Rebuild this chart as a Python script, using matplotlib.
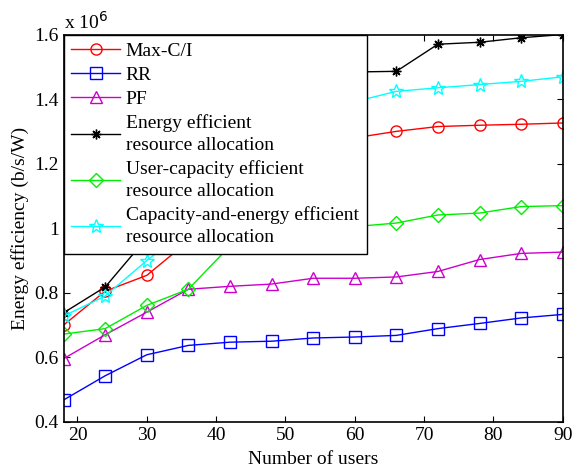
import matplotlib.pyplot as plt

plt.rcParams["font.family"] = ["Liberation Serif", "DejaVu Serif"]

users = [18, 24, 30, 36, 42, 48, 54, 60, 66, 72, 78, 84, 90]

# energy efficiency in units of 1e6 b/s/W
max_ci = [0.70, 0.805, 0.854, 0.96, 1.07, 1.16, 1.23, 1.28, 1.30, 1.315, 1.319, 1.322, 1.326]
rr = [0.468, 0.543, 0.608, 0.637, 0.647, 0.650, 0.660, 0.663, 0.668, 0.689, 0.705, 0.722, 0.733]
pf = [0.596, 0.670, 0.740, 0.811, 0.820, 0.827, 0.845, 0.845, 0.849, 0.866, 0.903, 0.922, 0.926]
energy_eff = [0.738, 0.818, 0.97, 1.10, 1.22, 1.32, 1.42, 1.484, 1.486, 1.570, 1.576, 1.590, 1.60]
capacity_eff = [0.672, 0.689, 0.761, 0.811, 0.945, 0.97, 0.99, 1.005, 1.016, 1.041, 1.047, 1.067, 1.070]
cap_energy_eff = [0.728, 0.790, 0.900, 1.00, 1.10, 1.20, 1.30, 1.392, 1.424, 1.435, 1.445, 1.455, 1.469]

series = [
    ("Max-C/I", max_ci, "#ff0000", "o", 8),
    ("RR", rr, "#0000ff", "s", 8),
    ("PF", pf, "#cc00cc", "^", 9),
    ("Energy efficient\nresource allocation", energy_eff, "#000000", (8, 2, 0), 7),
    ("User-capacity efficient\nresource allocation", capacity_eff, "#00ee00", "D", 7),
    ("Capacity-and-energy efficient\nresource allocation", cap_energy_eff, "#00ffff", "*", 10),
]

fig = plt.figure(figsize=(5.73, 4.73), dpi=100)
ax = fig.add_axes([0.111, 0.108, 0.871, 0.819])

for label, vals, color, marker, ms in series:
    ax.plot(users, vals, color=color, marker=marker, markersize=ms,
            markerfacecolor="none", markeredgecolor=color, linewidth=1.0,
            markeredgewidth=1.0, label=label)

ax.set_xlim(18, 90)
ax.set_ylim(0.4, 1.6)
ax.set_xticks([20, 30, 40, 50, 60, 70, 80, 90])
ax.set_yticks([0.4, 0.6, 0.8, 1.0, 1.2, 1.4, 1.6])
ax.set_yticklabels(["0.4", "0.6", "0.8", "1", "1.2", "1.4", "1.6"])
ax.tick_params(direction="in", labelsize=14, length=4, top=True, right=True)
for sp in ax.spines.values():
    sp.set_linewidth(1.2)

ax.set_xlabel("Number of users", fontsize=14, labelpad=5)
ax.set_ylabel("Energy efficiency (b/s/W)", fontsize=14, labelpad=4)
ax.text(0.0, 1.005, r"x 10$^6$", transform=ax.transAxes, fontsize=14,
        ha="left", va="bottom")

leg = ax.legend(loc="upper left", fontsize=14, frameon=True, fancybox=False,
                framealpha=1, borderaxespad=0, handlelength=2.5,
                labelspacing=0.32, borderpad=0.4, handletextpad=0.3)
leg.get_frame().set_edgecolor("black")
leg.get_frame().set_linewidth(1.0)
for t in leg.get_texts():
    t.set_linespacing(1.4)

fig.savefig("out.png", dpi=100)
